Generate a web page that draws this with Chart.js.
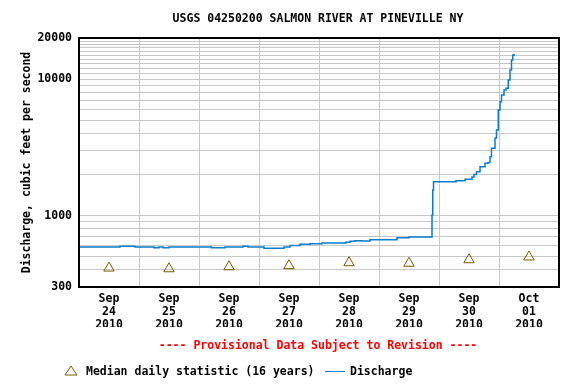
<!DOCTYPE html>
<html>
<head>
<meta charset="utf-8">
<script src="https://cdn.jsdelivr.net/npm/chart.js@4"></script>
<style>
  html, body { margin: 0; padding: 0; background: #fff; }
  #wrap { width: 576px; height: 384px; }
</style>
</head>
<body>
<div id="wrap"><canvas id="flowChart" width="576" height="384"></canvas></div>
<script>
// hours since Sep 24 2010 00:00, value holds until the next point
const dischargeHours = [0, 16.4, 22.4, 30, 32, 33.6, 36, 53, 58.4, 65.6, 67.6, 74, 82, 84.4, 88.4, 92.4,
    97.2, 106.8, 108.4, 110.4, 113.2, 116.4, 127.2, 132, 141.2, 141.5, 141.8, 150.8, 154.4, 157.2, 158,
    159, 160.4, 162.4, 163.6, 164.4, 165, 166.4, 167, 167.7, 168.4, 169, 170, 170.8, 171.7, 172.4, 173,
    173.5, 174.1];
const dischargeCfs = [589, 596, 589, 582, 589, 582, 589, 582, 589, 596, 589, 577, 589, 605, 617, 623,
    630, 637, 648, 655, 652, 666, 689, 697, 1010, 1540, 1772, 1800, 1850, 1920, 2000,
    2098, 2283, 2418, 2450, 2702, 3114, 3706, 4240, 5942, 6837, 7650, 8323, 8567, 9857, 11661, 13809,
    15020, 15278];

// median daily statistic, plotted at noon of each day
const medianHours = [12, 36, 60, 84, 108, 132, 156, 180];
const medianCfs = [413, 408, 422, 430, 452, 448, 475, 498];

const dayLabels = [
    ['Sep', '24', '2010'], ['Sep', '25', '2010'], ['Sep', '26', '2010'], ['Sep', '27', '2010'],
    ['Sep', '28', '2010'], ['Sep', '29', '2010'], ['Sep', '30', '2010'], ['Oct', '01', '2010']
];

const yGridValues = [300, 400, 500, 600, 700, 800, 900, 1000, 2000, 3000, 4000, 5000, 6000, 7000, 8000, 9000,
    10000, 11000, 12000, 13000, 14000, 15000, 16000, 17000, 18000, 19000, 20000];
const yLabelValues = [300, 1000, 10000, 20000];

const FONT = 'DejaVu Sans Mono';
const LINE_BLUE = '#0a7ccc';
const TRI_BROWN = '#7a5a00';

const textPlugin = {
    id: 'usgsText',
    afterDraw(chart) {
        const ctx = chart.ctx;
        const area = chart.chartArea;
        ctx.save();
        // frame
        ctx.strokeStyle = '#000';
        ctx.lineWidth = 2;
        ctx.strokeRect(area.left, area.top, area.right - area.left, area.bottom - area.top);

        ctx.font = 'bold 11.5px "' + FONT + '"';
        ctx.textBaseline = 'middle';
        ctx.textAlign = 'center';
        ctx.fillStyle = '#000';
        ctx.fillText('USGS 04250200 SALMON RIVER AT PINEVILLE NY', 318, 19);

        ctx.fillStyle = '#ff0000';
        ctx.fillText('---- Provisional Data Subject to Revision ----', 318, 346);

        // legend
        ctx.strokeStyle = TRI_BROWN;
        ctx.lineWidth = 1;
        ctx.beginPath();
        ctx.moveTo(71, 366);
        ctx.lineTo(77, 375);
        ctx.lineTo(65, 375);
        ctx.closePath();
        ctx.stroke();

        ctx.textAlign = 'left';
        ctx.fillStyle = '#000';
        ctx.fillText('Median daily statistic (16 years)', 86, 372);

        ctx.strokeStyle = LINE_BLUE;
        ctx.lineWidth = 1;
        ctx.beginPath();
        ctx.moveTo(325, 371.5);
        ctx.lineTo(345, 371.5);
        ctx.stroke();

        ctx.fillText('Discharge', 350, 372);
        ctx.restore();
    }
};

const ctx = document.getElementById('flowChart').getContext('2d');
const chart = new Chart(ctx, {
    type: 'line',
    data: {
        datasets: [
            {
                label: 'Discharge',
                data: dischargeHours.map((h, i) => ({ x: h, y: dischargeCfs[i] })),
                borderColor: LINE_BLUE,
                borderWidth: 1.5,
                stepped: 'before',
                pointRadius: 0,
                fill: false,
                order: 2
            },
            {
                label: 'Median daily statistic (16 years)',
                data: medianHours.map((h, i) => ({ x: h, y: medianCfs[i] })),
                showLine: false,
                pointStyle: 'triangle',
                pointRadius: 6,
                pointBorderColor: TRI_BROWN,
                pointBackgroundColor: 'rgba(0,0,0,0)',
                pointBorderWidth: 1,
                order: 1
            }
        ]
    },
    options: {
        responsive: false,
        animation: false,
        layout: { padding: { left: 0, top: 38, right: 17, bottom: 57 } },
        plugins: {
            legend: { display: false },
            title: { display: false },
            tooltip: { enabled: false }
        },
        scales: {
            x: {
                type: 'linear',
                min: 0,
                max: 192,
                afterBuildTicks: scale => {
                    const t = [];
                    for (let v = 0; v <= 192; v += 12) t.push({ value: v });
                    scale.ticks = t;
                },
                afterFit: scale => { scale.height = 40; },
                grid: {
                    color: c => (c.tick && c.tick.value % 24 === 0) ? '#c8c8c8' : 'rgba(0,0,0,0)',
                    lineWidth: 1,
                    drawTicks: false
                },
                border: { display: false },
                ticks: {
                    autoSkip: false,
                    maxRotation: 0,
                    padding: 6,
                    color: '#000',
                    font: { family: FONT, size: 11.5, weight: 'bold', lineHeight: 1.13 },
                    callback: v => (v % 24 === 12) ? dayLabels[(v - 12) / 24] : ''
                }
            },
            y: {
                type: 'logarithmic',
                min: 300,
                max: 20000,
                afterBuildTicks: scale => {
                    scale.ticks = yGridValues.map(v => ({ value: v }));
                },
                afterFit: scale => { scale.width = 79; },
                grid: { color: '#c8c8c8', lineWidth: 1, drawTicks: false },
                border: { display: false },
                ticks: {
                    autoSkip: false,
                    padding: 7,
                    color: '#000',
                    font: { family: FONT, size: 11.5, weight: 'bold' },
                    callback: v => yLabelValues.includes(v) ? String(v) : ''
                },
                title: {
                    display: true,
                    text: 'Discharge, cubic feet per second',
                    color: '#000',
                    padding: { top: 20, bottom: 0 },
                    font: { family: FONT, size: 11.5, weight: 'bold' }
                }
            }
        }
    },
    plugins: [textPlugin]
});
</script>
</body>
</html>
